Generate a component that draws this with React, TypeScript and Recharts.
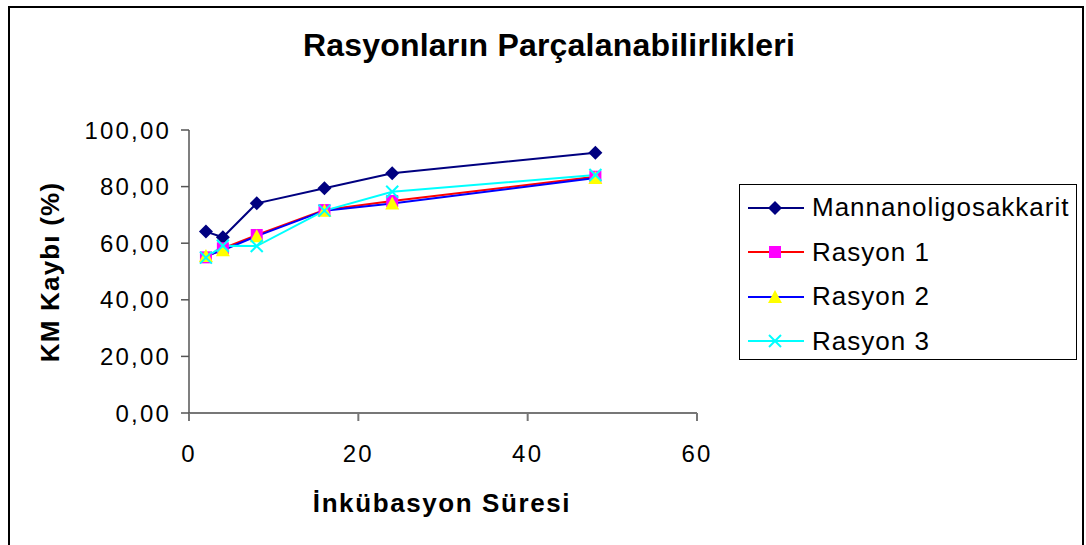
import { LineChart, Line, XAxis, YAxis } from 'recharts';

const hours = [2, 4, 8, 16, 24, 48];
const mannan = [64.1, 62.1, 74.1, 79.4, 84.7, 92.0];
const rasyon1 = [55.0, 58.2, 62.9, 71.7, 74.9, 83.5];
const rasyon2 = [55.5, 57.5, 62.5, 71.5, 74.0, 83.0];
const rasyon3 = [54.9, 59.1, 59.0, 71.5, 78.2, 84.1];
const xTicks = [0, 20, 40, 60];
const yTicks = [0, 20, 40, 60, 80, 100];

const data = hours.map((h, i) => ({
  x: h,
  m: mannan[i],
  r1: rasyon1[i],
  r2: rasyon2[i],
  r3: rasyon3[i],
}));

const FONT = '"Liberation Sans", Arial, sans-serif';

type Shape = 'diamond' | 'square' | 'triangle' | 'cross';

function Marker({ cx, cy, shape }: { cx: number; cy: number; shape: Shape }) {
  if (cx == null || cy == null) return null;
  if (shape === 'diamond')
    return <polygon points={`${cx},${cy - 7} ${cx + 7},${cy} ${cx},${cy + 7} ${cx - 7},${cy}`} fill="#000080" />;
  if (shape === 'square') return <rect x={cx - 6} y={cy - 6} width={12} height={12} fill="#FF00FF" />;
  if (shape === 'triangle')
    return <polygon points={`${cx},${cy - 7} ${cx + 7},${cy + 6} ${cx - 7},${cy + 6}`} fill="#FFFF00" />;
  return (
    <g stroke="#00FFFF" strokeWidth={2}>
      <line x1={cx - 6} y1={cy - 6} x2={cx + 6} y2={cy + 6} />
      <line x1={cx - 6} y1={cy + 6} x2={cx + 6} y2={cy - 6} />
    </g>
  );
}

const series = [
  { key: 'm', name: 'Mannanoligosakkarit', color: '#000080', shape: 'diamond' as Shape },
  { key: 'r1', name: 'Rasyon 1', color: '#FF0000', shape: 'square' as Shape },
  { key: 'r2', name: 'Rasyon 2', color: '#0000FF', shape: 'triangle' as Shape },
  { key: 'r3', name: 'Rasyon 3', color: '#00FFFF', shape: 'cross' as Shape },
];

function LegendBox() {
  return (
    <div
      style={{
        position: 'absolute',
        left: 739,
        top: 184,
        border: '1.5px solid #000',
        width: 338,
        height: 176,
        boxSizing: 'border-box',
        background: '#fff',
      }}
    >
      {series.map((s, i) => (
        <div
          key={s.key}
          style={{ position: 'absolute', left: 8, top: 0.5 + i * 44.5, height: 44, display: 'flex', alignItems: 'center' }}
        >
          <svg width={56} height={20}>
            <line x1={0} y1={10} x2={56} y2={10} stroke={s.color} strokeWidth={2} />
            <Marker cx={27} cy={10} shape={s.shape} />
          </svg>
          <span style={{ fontFamily: FONT, fontSize: 26, letterSpacing: 1, marginLeft: 8, color: '#000' }}>{s.name}</span>
        </div>
      ))}
    </div>
  );
}

const fmt = (v: number) => v.toFixed(2).replace('.', ',');

const tickStyle = { fill: '#000', fontSize: 24, fontFamily: FONT, letterSpacing: 2.2 };

export default function App() {
  return (
    <div style={{ position: 'absolute', left: 0, top: 0, width: 1086, height: 545, overflow: 'hidden', background: '#fff' }}>
      <div
        style={{
          position: 'absolute',
          left: 8,
          top: 6,
          width: 1076,
          height: 600,
          border: '2px solid #000',
          boxSizing: 'border-box',
        }}
      />
      <div
        style={{
          position: 'absolute',
          left: 549,
          top: 45,
          transform: 'translate(-50%, -50%)',
          whiteSpace: 'nowrap',
          fontFamily: FONT,
          fontWeight: 'bold',
          fontSize: 32,
          letterSpacing: 0.2,
        }}
      >
        Rasyonların Parçalanabilirlikleri
      </div>
      <div
        style={{
          position: 'absolute',
          left: 50,
          top: 272,
          transform: 'translate(-50%, -50%) rotate(-90deg)',
          whiteSpace: 'nowrap',
          fontFamily: FONT,
          fontWeight: 'bold',
          fontSize: 26,
          letterSpacing: 1.2,
        }}
      >
        KM Kaybı (%)
      </div>
      <div
        style={{
          position: 'absolute',
          left: 442,
          top: 503,
          transform: 'translate(-50%, -50%)',
          whiteSpace: 'nowrap',
          fontFamily: FONT,
          fontWeight: 'bold',
          fontSize: 26,
          letterSpacing: 1.6,
        }}
      >
        İnkübasyon Süresi
      </div>
      <div style={{ position: 'absolute', left: 0, top: 0 }}>
        <LineChart width={1086} height={545} data={data} margin={{ top: 130, right: 389, left: 89, bottom: 92 }}>
          <XAxis
            type="number"
            dataKey="x"
            domain={[0, 60]}
            ticks={xTicks}
            tickSize={8}
            tickMargin={24}
            height={40}
            stroke="#777"
            strokeWidth={2}
            tick={tickStyle}
          />
          <YAxis
            type="number"
            domain={[0, 100]}
            ticks={yTicks}
            tickFormatter={fmt}
            tickSize={8}
            tickMargin={10}
            width={100}
            stroke="#555"
            strokeWidth={1.5}
            tick={tickStyle}
          />
          {series.map((s) => (
            <Line
              key={s.key}
              type="linear"
              dataKey={s.key}
              name={s.name}
              stroke={s.color}
              strokeWidth={2}
              dot={(p: any) => <Marker key={`${s.key}-${p.index}`} cx={p.cx} cy={p.cy} shape={s.shape} />}
              activeDot={false}
              isAnimationActive={false}
            />
          ))}
        </LineChart>
      </div>
      <LegendBox />
    </div>
  );
}
